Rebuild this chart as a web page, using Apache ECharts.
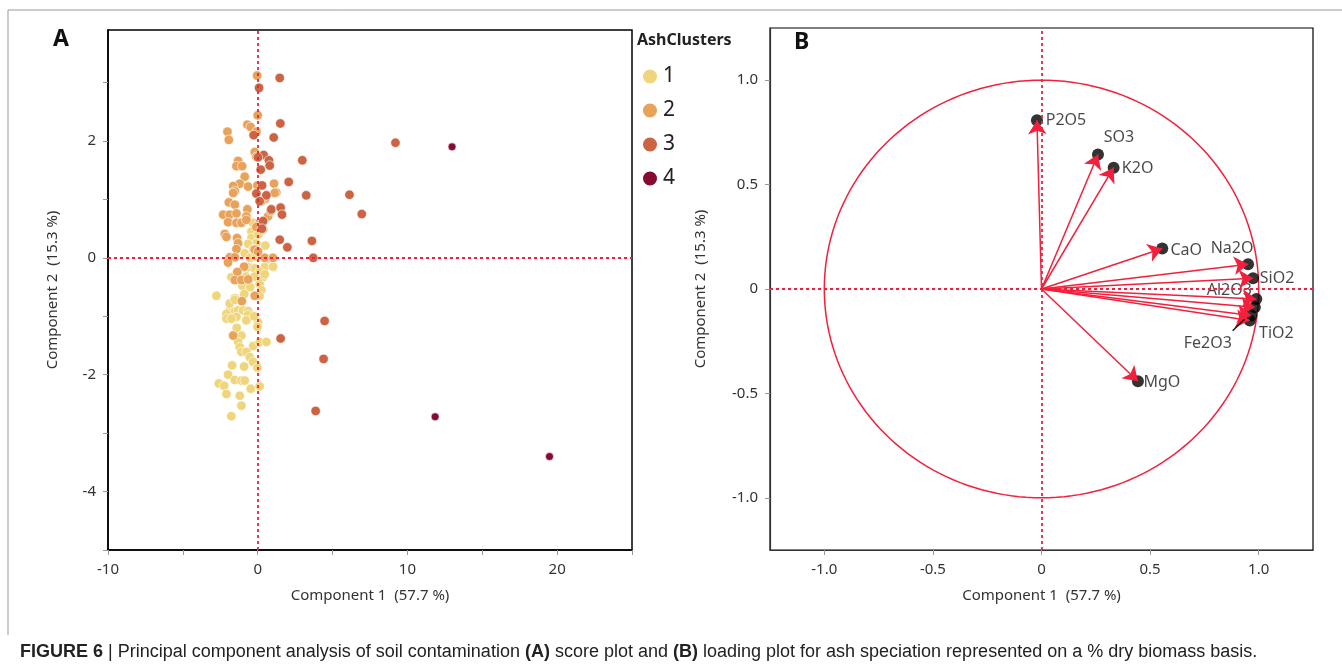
<!DOCTYPE html>
<html>
<head>
<meta charset="utf-8">
<script src="https://cdn.jsdelivr.net/npm/echarts@6/dist/echarts.min.js"></script>
<style>
  html, body { margin: 0; padding: 0; background: #fff; }
  #chart { width: 1342px; height: 670px; }
</style>
</head>
<body>
<div id="chart"></div>
<script>
// score plot (A) - one list per ash cluster, [component1, component2]
const clusterNames = ['1', '2', '3', '4'];
const clusterColors = ['#EFD67C', '#E9A25A', '#CC6444', '#870A30'];

const cluster1 = [
  [-0.42, 0.45], [-0.42, 0.34], [-0.09, 0.25], [-0.64, 0.24], [0.51, 0.21], [-0.31, 0.15],
  [-0.87, 0.08], [-0.53, 0.0], [-0.09, 0.02], [0.58, -0.03], [-0.64, -0.16], [-0.2, -0.18],
  [0.47, -0.16], [1.02, -0.15], [0.13, -0.24], [-1.76, -0.33], [-0.76, -0.32], [-0.2, -0.32],
  [0.36, -0.33], [0.13, -0.45], [0.24, -0.55], [-2.76, -0.65], [-1.53, -0.69], [0.13, -0.65],
  [-1.87, -0.9], [-1.53, -0.92], [-1.31, -0.9], [-0.98, -0.9], [-0.64, -0.91], [-2.09, -0.96],
  [-0.64, -0.98], [-1.42, -1.01], [0.02, -1.1], [-1.09, -1.33], [-0.02, -1.18], [-1.31, -1.44],
  [-1.2, -1.53], [-1.09, -1.61], [-0.76, -1.61], [-0.53, -1.7], [-0.31, -1.51], [0.13, -1.44],
  [0.58, -1.44], [-0.31, -1.78], [-0.02, -1.88], [-1.71, -1.84], [-0.91, -1.86], [-1.98, -2.0],
  [-1.53, -2.09], [-1.09, -2.1], [-0.87, -2.1], [-2.6, -2.15], [-2.24, -2.19], [-0.47, -2.24],
  [0.13, -2.2], [-2.09, -2.33], [-1.2, -2.36], [-1.09, -2.53], [-1.76, -2.71], [-1.87, -0.78],
  [-1.53, -0.72], [-1.02, -0.48], [0.47, -0.28], [-2.09, -1.04], [-1.76, -1.04], [-0.76, -1.07],
  [-0.31, 0.6], [0.05, 0.4], [-0.5, -0.5], [-0.9, -0.62], [-0.25, -1.0], [-1.4, -1.2]
];
const cluster2 = [
  [-0.04, 3.12], [0.0, 2.44], [-0.69, 2.28], [-0.47, 2.24], [-0.09, 2.16], [-2.02, 2.16],
  [-1.93, 2.02], [-0.2, 1.81], [-0.09, 1.73], [-1.31, 1.66], [-1.42, 1.57], [-1.04, 1.57],
  [-0.87, 1.39], [-1.2, 1.27], [-1.64, 1.23], [-1.53, 1.14], [-0.64, 1.22], [-0.02, 1.24],
  [1.09, 1.27], [1.24, 1.12], [-1.64, 1.11], [-1.93, 0.95], [-1.53, 0.91], [-2.31, 0.74],
  [-1.87, 0.74], [-1.42, 0.76], [-0.69, 0.83], [-0.76, 0.71], [-1.98, 0.61], [-1.42, 0.6],
  [-1.09, 0.6], [-0.76, 0.65], [-2.2, 0.41], [-2.09, 0.36], [-1.38, 0.34], [-1.31, 0.25],
  [-1.42, 0.15], [-1.87, 0.01], [-1.53, 0.01], [-1.98, -0.08], [-0.91, -0.15], [-1.36, -0.24],
  [-1.53, -0.38], [-1.09, -0.38], [-0.64, -0.37], [-1.06, -0.74], [-0.2, -0.65], [0.69, 0.71],
  [0.87, 0.8], [0.13, 0.6], [0.36, 0.49], [-0.09, 0.53], [-0.2, 0.14], [0.02, 0.11],
  [0.47, 0.0], [1.02, 0.0], [1.13, 1.11], [0.47, 1.0], [0.24, 0.97], [-1.64, -1.33]
];
const cluster3 = [
  [1.47, 3.08], [0.09, 2.91], [1.51, 2.3], [1.07, 2.06], [-0.27, 2.1], [9.2, 1.97],
  [2.98, 1.67], [0.4, 1.76], [0.02, 1.72], [0.75, 1.67], [0.8, 1.58], [0.2, 1.51],
  [2.07, 1.3], [0.29, 1.24], [3.24, 1.07], [6.13, 1.08], [6.95, 0.75], [0.58, 1.07],
  [-0.09, 1.1], [0.13, 0.97], [0.91, 0.83], [1.53, 0.86], [1.62, 0.74], [0.36, 0.63],
  [0.28, 0.5], [1.47, 0.31], [1.98, 0.18], [3.62, 0.29], [3.71, 0.0], [4.47, -1.08],
  [1.53, -1.38], [4.4, -1.73], [3.87, -2.62]
];
const cluster4 = [[12.98, 1.9], [11.85, -2.72], [19.49, -3.4]];

const scoreXLabels = [-10, 0, 10, 20];
const scoreXTicks = [-10, -5, 0, 5, 10, 15, 20, 25];
const scoreYLabels = [-4, -2, 0, 2];
const scoreYTicks = [-5, -4, -3, -2, -1, 0, 1, 2, 3];

// loading plot (B)
const loadingNames = ['P2O5', 'SO3', 'K2O', 'CaO', 'Na2O', 'SiO2', 'Al2O3', '', 'TiO2', 'Fe2O3', 'MgO'];
const loadingX = [-0.021, 0.26, 0.332, 0.556, 0.951, 0.974, 0.989, 0.982, 0.966, 0.959, 0.444];
const loadingY = [0.808, 0.644, 0.581, 0.194, 0.119, 0.051, -0.048, -0.087, -0.127, -0.151, -0.442];
const loadingTicks = [-1, -0.5, 0, 0.5, 1];

// label placement for the loading names (pixels from the point)
const labelOffsets = {
  'P2O5': [29, 0], 'SO3': [21, -17], 'K2O': [24, 1], 'CaO': [24, 2], 'Na2O': [-16, -16],
  'SiO2': [24, 0], 'Al2O3': [-27, -9], 'TiO2': [25, 18], 'Fe2O3': [-42, 23], 'MgO': [24, 1]
};

const RED = '#F2203C';
const FONT = 'Noto Sans';

const chart = echarts.init(document.getElementById('chart'));

function fmtLoad(v) {
  if (v === 0) return '0';
  return v.toFixed(1);
}

const zeroLines = {
  silent: true,
  symbol: 'none',
  label: { show: false },
  lineStyle: { color: RED, type: [3, 3], width: 1.8 },
  data: [{ xAxis: 0 }, { yAxis: 0 }]
};

const baseAxis = {
  type: 'value',
  splitLine: { show: false },
  axisLine: { onZero: false, lineStyle: { color: '#000', width: 1.5 } },
  axisTick: { lineStyle: { color: '#999' }, length: 5 },
  axisLabel: { color: '#333', fontSize: 15, fontFamily: FONT },
  nameTextStyle: { color: '#333', fontSize: 15, fontFamily: FONT },
  nameLocation: 'middle'
};

const series = [cluster1, cluster2, cluster3, cluster4].map((pts, i) => ({
  name: clusterNames[i],
  type: 'scatter',
  xAxisIndex: 0,
  yAxisIndex: 0,
  data: pts,
  symbolSize: i === 3 ? 8 : 9.5,
  itemStyle: { color: clusterColors[i], borderColor: '#fff', borderWidth: 0.6, opacity: 1 },
  markLine: i === 0 ? zeroLines : undefined,
  z: 3
}));

const loadingPoints = loadingNames.map((n, i) => {
  const off = labelOffsets[n] || [0, 0];
  return {
    value: [loadingX[i], loadingY[i]],
    name: n,
    label: { show: n !== '', position: 'inside', offset: off }
  };
});

// unit circle of the loading plot
series.push({
  type: 'custom',
  xAxisIndex: 1,
  yAxisIndex: 1,
  data: [[0, 0]],
  silent: true,
  z: 2,
  renderItem: function (params, api) {
    const pts = [];
    for (let k = 0; k <= 180; k++) {
      const t = k / 180 * Math.PI * 2;
      pts.push(api.coord([Math.cos(t), Math.sin(t)]));
    }
    return {
      type: 'polyline',
      shape: { points: pts },
      style: { stroke: RED, lineWidth: 1.5, fill: null }
    };
  },
  markLine: zeroLines
});

series.push({
  type: 'scatter',
  xAxisIndex: 1,
  yAxisIndex: 1,
  data: loadingPoints,
  symbolSize: 12,
  itemStyle: { color: '#000' },
  label: {
    formatter: '{b}',
    color: '#1a1a1a',
    fontSize: 16,
    fontFamily: FONT
  },
  z: 4
});

series.push({
  type: 'lines',
  coordinateSystem: 'cartesian2d',
  xAxisIndex: 1,
  yAxisIndex: 1,
  symbol: ['none', 'arrow'],
  symbolSize: 14,
  lineStyle: { color: RED, width: 1.5, opacity: 1 },
  data: loadingNames.map((n, i) => ({ coords: [[0, 0], [loadingX[i], loadingY[i]]] })),
  silent: true,
  z: 5
});

// leader line for Fe2O3
series.push({
  type: 'lines',
  coordinateSystem: 'cartesian2d',
  xAxisIndex: 1,
  yAxisIndex: 1,
  symbol: 'none',
  lineStyle: { color: '#111', width: 1.4, opacity: 1 },
  data: [{ coords: [[0.88, -0.2], [0.935, -0.145]] }],
  silent: true,
  z: 5
});

const option = {
  animation: false,
  backgroundColor: '#fff',
  textStyle: { fontFamily: FONT },
  grid: [
    { left: 108, top: 30, width: 524, height: 520, show: true, borderColor: '#000', borderWidth: 1.5, backgroundColor: 'transparent' },
    { left: 770, top: 28, width: 543, height: 522, show: true, borderColor: '#000', borderWidth: 1.2, backgroundColor: 'transparent' }
  ],
  xAxis: [
    Object.assign({}, baseAxis, {
      gridIndex: 0, min: -10, max: 25,
      name: 'Component 1  (57.7 %)', nameGap: 38,
      axisLabel: Object.assign({}, baseAxis.axisLabel, { customValues: scoreXLabels, margin: 12 }),
      axisTick: Object.assign({}, baseAxis.axisTick, { customValues: scoreXTicks })
    }),
    Object.assign({}, baseAxis, {
      gridIndex: 1, min: -1.25, max: 1.25,
      name: 'Component 1  (57.7 %)', nameGap: 38,
      axisLine: { onZero: false, lineStyle: { color: '#333', width: 1.2 } },
      axisLabel: Object.assign({}, baseAxis.axisLabel, { customValues: loadingTicks, formatter: fmtLoad, margin: 12 }),
      axisTick: Object.assign({}, baseAxis.axisTick, { customValues: loadingTicks })
    })
  ],
  yAxis: [
    Object.assign({}, baseAxis, {
      gridIndex: 0, min: -5, max: 3.9,
      name: 'Component 2  (15.3 %)', nameGap: 48,
      axisLabel: Object.assign({}, baseAxis.axisLabel, { customValues: scoreYLabels, margin: 12 }),
      axisTick: Object.assign({}, baseAxis.axisTick, { customValues: scoreYTicks })
    }),
    Object.assign({}, baseAxis, {
      gridIndex: 1, min: -1.25, max: 1.25,
      name: 'Component 2  (15.3 %)', nameGap: 62,
      axisLine: { onZero: false, lineStyle: { color: '#333', width: 1.2 } },
      axisLabel: Object.assign({}, baseAxis.axisLabel, { customValues: loadingTicks, formatter: fmtLoad, margin: 12 }),
      axisTick: Object.assign({}, baseAxis.axisTick, { customValues: loadingTicks })
    })
  ],
  legend: {
    orient: 'vertical',
    left: 636,
    top: 61,
    itemGap: 13,
    icon: 'circle',
    itemWidth: 16,
    itemHeight: 16,
    data: clusterNames,
    textStyle: { fontSize: 21, color: '#222', fontFamily: FONT },
    selectedMode: false
  },
  graphic: [
    { type: 'line', shape: { x1: 8, y1: 10, x2: 1342, y2: 10 }, style: { stroke: '#999', lineWidth: 1 } },
    { type: 'line', shape: { x1: 8, y1: 10, x2: 8, y2: 635 }, style: { stroke: '#999', lineWidth: 1 } },
    { type: 'text', left: 53, top: 28, style: { text: 'A', font: 'bold 23px ' + FONT, fill: '#111' } },
    { type: 'text', left: 794, top: 31, style: { text: 'B', font: 'bold 23px ' + FONT, fill: '#111' } },
    { type: 'text', left: 637, top: 32, style: { text: 'AshClusters', font: 'bold 16px ' + FONT, fill: '#222' } },
    {
      type: 'text', left: 20, top: 643,
      style: {
        text: '{b|FIGURE 6} | Principal component analysis of soil contamination {b|(A)} score plot and {b|(B)} loading plot for ash speciation represented on a % dry biomass basis.',
        font: '18px "Liberation Sans"',
        fill: '#222',
        rich: {
          b: { font: 'bold 18px "Liberation Sans"', fill: '#222' }
        }
      }
    }
  ],
  series: series
};

chart.setOption(option);
</script>
</body>
</html>
